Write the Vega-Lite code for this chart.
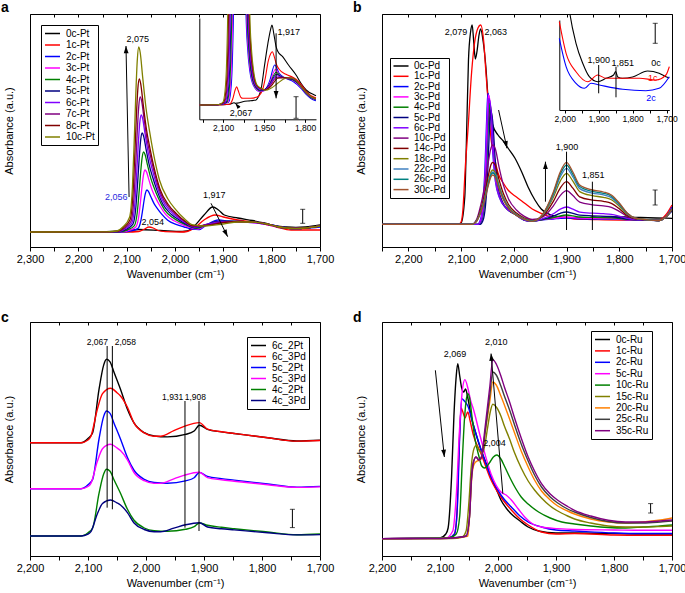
{
"$schema":"https://vega.github.io/schema/vega-lite/v6.json",
"background":"white","padding":0,"autosize":{"type":"pad"},
"config":{"font":"Liberation Sans","view":{"stroke":"black","strokeWidth":1},
"axis":{"grid":false,"domainColor":"black","tickColor":"black","labelColor":"black","titleColor":"black","labelFontSize":11,"titleFontSize":11,"titleFontWeight":"normal","labelFont":"Liberation Sans","titleFont":"Liberation Sans"},
"legend":{"labelColor":"black","labelFont":"Liberation Sans"},
"text":{"font":"Liberation Sans"}},
"datasets":{
"A":[
{"s":"0c-Pt","w":2300,"v":15},{"s":"0c-Pt","w":2150,"v":15.2},{"s":"0c-Pt","w":2100,"v":16.5},{"s":"0c-Pt","w":2075,"v":17.5},{"s":"0c-Pt","w":2030,"v":16.5},{"s":"0c-Pt","w":1985,"v":15.5},{"s":"0c-Pt","w":1975,"v":16},{"s":"0c-Pt","w":1960,"v":21},{"s":"0c-Pt","w":1940,"v":32},{"s":"0c-Pt","w":1922,"v":40},{"s":"0c-Pt","w":1910,"v":37},{"s":"0c-Pt","w":1898,"v":32},{"s":"0c-Pt","w":1870,"v":29},{"s":"0c-Pt","w":1840,"v":26.5},{"s":"0c-Pt","w":1815,"v":24},{"s":"0c-Pt","w":1790,"v":21},{"s":"0c-Pt","w":1770,"v":20},{"s":"0c-Pt","w":1750,"v":19.5},{"s":"0c-Pt","w":1730,"v":20},{"s":"0c-Pt","w":1700,"v":22},
{"s":"1c-Pt","w":2300,"v":15},{"s":"1c-Pt","w":2100,"v":15},{"s":"1c-Pt","w":2075,"v":15.5},{"s":"1c-Pt","w":2065,"v":17.5},{"s":"1c-Pt","w":2054,"v":20},{"s":"1c-Pt","w":2045,"v":19},{"s":"1c-Pt","w":2035,"v":16.5},{"s":"1c-Pt","w":2020,"v":15.3},{"s":"1c-Pt","w":1990,"v":15},{"s":"1c-Pt","w":1975,"v":15.5},{"s":"1c-Pt","w":1960,"v":19},{"s":"1c-Pt","w":1940,"v":27},{"s":"1c-Pt","w":1917,"v":32},{"s":"1c-Pt","w":1900,"v":30},{"s":"1c-Pt","w":1870,"v":27},{"s":"1c-Pt","w":1840,"v":25},{"s":"1c-Pt","w":1815,"v":23},{"s":"1c-Pt","w":1790,"v":20},{"s":"1c-Pt","w":1760,"v":17},{"s":"1c-Pt","w":1730,"v":17},{"s":"1c-Pt","w":1700,"v":17},
{"s":"2c-Pt","w":2300,"v":15},{"s":"2c-Pt","w":2123,"v":15},{"s":"2c-Pt","w":2103,"v":15.2},{"s":"2c-Pt","w":2091,"v":16.1},{"s":"2c-Pt","w":2077,"v":18.4},{"s":"2c-Pt","w":2071,"v":25.5},{"s":"2c-Pt","w":2067,"v":36.8},{"s":"2c-Pt","w":2064,"v":46.5},{"s":"2c-Pt","w":2061,"v":54.1},{"s":"2c-Pt","w":2058,"v":57},{"s":"2c-Pt","w":2055,"v":55.7},{"s":"2c-Pt","w":2050,"v":50.3},{"s":"2c-Pt","w":2043,"v":43.1},{"s":"2c-Pt","w":2036,"v":38.1},{"s":"2c-Pt","w":2028,"v":33.1},{"s":"2c-Pt","w":2015,"v":26.8},{"s":"2c-Pt","w":1998,"v":22.6},{"s":"2c-Pt","w":1981,"v":20},{"s":"2c-Pt","w":1963,"v":17.9},{"s":"2c-Pt","w":1950,"v":17.5},{"s":"2c-Pt","w":1935,"v":22},{"s":"2c-Pt","w":1910,"v":27},{"s":"2c-Pt","w":1890,"v":26},{"s":"2c-Pt","w":1860,"v":25},{"s":"2c-Pt","w":1830,"v":24},{"s":"2c-Pt","w":1800,"v":22},{"s":"2c-Pt","w":1780,"v":20},{"s":"2c-Pt","w":1760,"v":19},{"s":"2c-Pt","w":1730,"v":19},{"s":"2c-Pt","w":1700,"v":20},
{"s":"3c-Pt","w":2300,"v":15},{"s":"3c-Pt","w":2127,"v":15.1},{"s":"3c-Pt","w":2107,"v":15.3},{"s":"3c-Pt","w":2095,"v":16.7},{"s":"3c-Pt","w":2081,"v":20},{"s":"3c-Pt","w":2075,"v":30.5},{"s":"3c-Pt","w":2071,"v":47.2},{"s":"3c-Pt","w":2068,"v":61.5},{"s":"3c-Pt","w":2065,"v":72.7},{"s":"3c-Pt","w":2062,"v":77},{"s":"3c-Pt","w":2059,"v":75.1},{"s":"3c-Pt","w":2054,"v":67.1},{"s":"3c-Pt","w":2047,"v":56.5},{"s":"3c-Pt","w":2040,"v":49.1},{"s":"3c-Pt","w":2032,"v":41.7},{"s":"3c-Pt","w":2019,"v":32.4},{"s":"3c-Pt","w":2002,"v":26.2},{"s":"3c-Pt","w":1985,"v":22.4},{"s":"3c-Pt","w":1967,"v":19.3},{"s":"3c-Pt","w":1952,"v":18},{"s":"3c-Pt","w":1935,"v":22},{"s":"3c-Pt","w":1910,"v":25.5},{"s":"3c-Pt","w":1870,"v":25},{"s":"3c-Pt","w":1840,"v":24.5},{"s":"3c-Pt","w":1810,"v":22.5},{"s":"3c-Pt","w":1790,"v":20},{"s":"3c-Pt","w":1770,"v":19},{"s":"3c-Pt","w":1750,"v":18.5},{"s":"3c-Pt","w":1730,"v":19},{"s":"3c-Pt","w":1700,"v":21},
{"s":"4c-Pt","w":2300,"v":15},{"s":"4c-Pt","w":2130,"v":15.1},{"s":"4c-Pt","w":2110,"v":15.4},{"s":"4c-Pt","w":2098,"v":17.2},{"s":"4c-Pt","w":2084,"v":21.4},{"s":"4c-Pt","w":2078,"v":35},{"s":"4c-Pt","w":2074,"v":56.6},{"s":"4c-Pt","w":2071,"v":75},{"s":"4c-Pt","w":2068,"v":89.4},{"s":"4c-Pt","w":2065,"v":95},{"s":"4c-Pt","w":2062,"v":92.6},{"s":"4c-Pt","w":2057,"v":82.2},{"s":"4c-Pt","w":2050,"v":68.6},{"s":"4c-Pt","w":2043,"v":59},{"s":"4c-Pt","w":2035,"v":49.4},{"s":"4c-Pt","w":2022,"v":37.4},{"s":"4c-Pt","w":2005,"v":29.4},{"s":"4c-Pt","w":1988,"v":24.6},{"s":"4c-Pt","w":1970,"v":20.6},{"s":"4c-Pt","w":1955,"v":18.7},{"s":"4c-Pt","w":1935,"v":22},{"s":"4c-Pt","w":1910,"v":25.5},{"s":"4c-Pt","w":1870,"v":25.5},{"s":"4c-Pt","w":1840,"v":25},{"s":"4c-Pt","w":1810,"v":23},{"s":"4c-Pt","w":1790,"v":20.5},{"s":"4c-Pt","w":1770,"v":19},{"s":"4c-Pt","w":1750,"v":18.5},{"s":"4c-Pt","w":1730,"v":19},{"s":"4c-Pt","w":1700,"v":21},
{"s":"5c-Pt","w":2300,"v":15},{"s":"5c-Pt","w":2133,"v":15.1},{"s":"5c-Pt","w":2113,"v":15.5},{"s":"5c-Pt","w":2101,"v":17.7},{"s":"5c-Pt","w":2087,"v":22.9},{"s":"5c-Pt","w":2081,"v":39.8},{"s":"5c-Pt","w":2077,"v":66.5},{"s":"5c-Pt","w":2074,"v":89.3},{"s":"5c-Pt","w":2071,"v":107.1},{"s":"5c-Pt","w":2068,"v":114},{"s":"5c-Pt","w":2065,"v":111},{"s":"5c-Pt","w":2060,"v":98.2},{"s":"5c-Pt","w":2053,"v":81.3},{"s":"5c-Pt","w":2046,"v":69.5},{"s":"5c-Pt","w":2038,"v":57.6},{"s":"5c-Pt","w":2025,"v":42.7},{"s":"5c-Pt","w":2008,"v":32.8},{"s":"5c-Pt","w":1991,"v":26.9},{"s":"5c-Pt","w":1973,"v":21.9},{"s":"5c-Pt","w":1958,"v":19.3},{"s":"5c-Pt","w":1935,"v":22.5},{"s":"5c-Pt","w":1908,"v":25.5},{"s":"5c-Pt","w":1870,"v":25.5},{"s":"5c-Pt","w":1840,"v":25},{"s":"5c-Pt","w":1810,"v":23},{"s":"5c-Pt","w":1790,"v":20.5},{"s":"5c-Pt","w":1770,"v":19},{"s":"5c-Pt","w":1750,"v":18.5},{"s":"5c-Pt","w":1730,"v":19},{"s":"5c-Pt","w":1700,"v":21},
{"s":"6c-Pt","w":2300,"v":15},{"s":"6c-Pt","w":2135,"v":15.1},{"s":"6c-Pt","w":2115,"v":15.6},{"s":"6c-Pt","w":2103,"v":18.2},{"s":"6c-Pt","w":2089,"v":24.4},{"s":"6c-Pt","w":2083,"v":44.3},{"s":"6c-Pt","w":2079,"v":75.8},{"s":"6c-Pt","w":2076,"v":102.8},{"s":"6c-Pt","w":2073,"v":123.8},{"s":"6c-Pt","w":2070,"v":132},{"s":"6c-Pt","w":2067,"v":128.5},{"s":"6c-Pt","w":2062,"v":113.3},{"s":"6c-Pt","w":2055,"v":93.4},{"s":"6c-Pt","w":2048,"v":79.4},{"s":"6c-Pt","w":2040,"v":65.3},{"s":"6c-Pt","w":2027,"v":47.8},{"s":"6c-Pt","w":2010,"v":36.1},{"s":"6c-Pt","w":1993,"v":29},{"s":"6c-Pt","w":1975,"v":23.2},{"s":"6c-Pt","w":1960,"v":19.9},{"s":"6c-Pt","w":1935,"v":22.5},{"s":"6c-Pt","w":1908,"v":25},{"s":"6c-Pt","w":1870,"v":25.5},{"s":"6c-Pt","w":1840,"v":25},{"s":"6c-Pt","w":1810,"v":23},{"s":"6c-Pt","w":1790,"v":20.5},{"s":"6c-Pt","w":1770,"v":19},{"s":"6c-Pt","w":1750,"v":18.5},{"s":"6c-Pt","w":1730,"v":19},{"s":"6c-Pt","w":1700,"v":21},
{"s":"7c-Pt","w":2300,"v":15},{"s":"7c-Pt","w":2137,"v":15.2},{"s":"7c-Pt","w":2117,"v":15.7},{"s":"7c-Pt","w":2105,"v":18.6},{"s":"7c-Pt","w":2091,"v":25.8},{"s":"7c-Pt","w":2085,"v":48.8},{"s":"7c-Pt","w":2081,"v":85.2},{"s":"7c-Pt","w":2078,"v":116.3},{"s":"7c-Pt","w":2075,"v":140.6},{"s":"7c-Pt","w":2072,"v":150},{"s":"7c-Pt","w":2069,"v":146},{"s":"7c-Pt","w":2064,"v":128.4},{"s":"7c-Pt","w":2057,"v":105.5},{"s":"7c-Pt","w":2050,"v":89.3},{"s":"7c-Pt","w":2042,"v":73.1},{"s":"7c-Pt","w":2029,"v":52.8},{"s":"7c-Pt","w":2012,"v":39.3},{"s":"7c-Pt","w":1995,"v":31.2},{"s":"7c-Pt","w":1977,"v":24.5},{"s":"7c-Pt","w":1962,"v":20.6},{"s":"7c-Pt","w":1935,"v":22},{"s":"7c-Pt","w":1905,"v":24.5},{"s":"7c-Pt","w":1870,"v":25.5},{"s":"7c-Pt","w":1840,"v":25},{"s":"7c-Pt","w":1810,"v":23},{"s":"7c-Pt","w":1790,"v":20.5},{"s":"7c-Pt","w":1770,"v":19},{"s":"7c-Pt","w":1750,"v":18.5},{"s":"7c-Pt","w":1730,"v":19},{"s":"7c-Pt","w":1700,"v":21},
{"s":"8c-Pt","w":2300,"v":15},{"s":"8c-Pt","w":2139,"v":15.2},{"s":"8c-Pt","w":2119,"v":15.8},{"s":"8c-Pt","w":2107,"v":19.1},{"s":"8c-Pt","w":2093,"v":27.2},{"s":"8c-Pt","w":2087,"v":53.3},{"s":"8c-Pt","w":2083,"v":94.6},{"s":"8c-Pt","w":2080,"v":129.8},{"s":"8c-Pt","w":2077,"v":157.3},{"s":"8c-Pt","w":2074,"v":168},{"s":"8c-Pt","w":2071,"v":163.4},{"s":"8c-Pt","w":2066,"v":143.5},{"s":"8c-Pt","w":2059,"v":117.5},{"s":"8c-Pt","w":2052,"v":99.2},{"s":"8c-Pt","w":2044,"v":80.8},{"s":"8c-Pt","w":2031,"v":57.8},{"s":"8c-Pt","w":2014,"v":42.5},{"s":"8c-Pt","w":1997,"v":33.4},{"s":"8c-Pt","w":1979,"v":25.7},{"s":"8c-Pt","w":1964,"v":21.3},{"s":"8c-Pt","w":1935,"v":21.5},{"s":"8c-Pt","w":1905,"v":24},{"s":"8c-Pt","w":1870,"v":25.5},{"s":"8c-Pt","w":1840,"v":25},{"s":"8c-Pt","w":1810,"v":23},{"s":"8c-Pt","w":1790,"v":20.5},{"s":"8c-Pt","w":1770,"v":19},{"s":"8c-Pt","w":1750,"v":18.5},{"s":"8c-Pt","w":1730,"v":19},{"s":"8c-Pt","w":1700,"v":21},
{"s":"10c-Pt","w":2300,"v":15},{"s":"10c-Pt","w":2140,"v":15.2},{"s":"10c-Pt","w":2120,"v":16},{"s":"10c-Pt","w":2108,"v":20},{"s":"10c-Pt","w":2094,"v":29.8},{"s":"10c-Pt","w":2088,"v":61},{"s":"10c-Pt","w":2084,"v":111},{"s":"10c-Pt","w":2081,"v":154},{"s":"10c-Pt","w":2078,"v":187},{"s":"10c-Pt","w":2075,"v":200},{"s":"10c-Pt","w":2072,"v":194.5},{"s":"10c-Pt","w":2067,"v":170.4},{"s":"10c-Pt","w":2060,"v":139},{"s":"10c-Pt","w":2053,"v":116.8},{"s":"10c-Pt","w":2045,"v":94.6},{"s":"10c-Pt","w":2032,"v":66.8},{"s":"10c-Pt","w":2015,"v":48.3},{"s":"10c-Pt","w":1998,"v":37.2},{"s":"10c-Pt","w":1980,"v":28},{"s":"10c-Pt","w":1965,"v":22.4},{"s":"10c-Pt","w":1940,"v":21},{"s":"10c-Pt","w":1900,"v":23},{"s":"10c-Pt","w":1870,"v":25},{"s":"10c-Pt","w":1840,"v":25},{"s":"10c-Pt","w":1810,"v":23},{"s":"10c-Pt","w":1790,"v":20.5},{"s":"10c-Pt","w":1770,"v":19},{"s":"10c-Pt","w":1750,"v":18.5},{"s":"10c-Pt","w":1730,"v":19},{"s":"10c-Pt","w":1700,"v":21}
],
"AI":[
{"s":"0c-Pt","w":2187,"v":14.3},{"s":"0c-Pt","w":2100,"v":14.5},{"s":"0c-Pt","w":2075,"v":15},{"s":"0c-Pt","w":2060,"v":16.5},{"s":"0c-Pt","w":2055,"v":16},{"s":"0c-Pt","w":2040,"v":16.5},{"s":"0c-Pt","w":2028,"v":17.6},{"s":"0c-Pt","w":2000,"v":18.5},{"s":"0c-Pt","w":1979,"v":19.3},{"s":"0c-Pt","w":1970,"v":23},{"s":"0c-Pt","w":1961,"v":30},{"s":"0c-Pt","w":1949,"v":52.6},{"s":"0c-Pt","w":1936,"v":76},{"s":"0c-Pt","w":1926,"v":90},{"s":"0c-Pt","w":1921,"v":94.3},{"s":"0c-Pt","w":1914,"v":85},{"s":"0c-Pt","w":1906,"v":72.6},{"s":"0c-Pt","w":1900,"v":68},{"s":"0c-Pt","w":1882,"v":62.6},{"s":"0c-Pt","w":1860,"v":54},{"s":"0c-Pt","w":1833,"v":44.3},{"s":"0c-Pt","w":1815,"v":36},{"s":"0c-Pt","w":1796,"v":29.3},{"s":"0c-Pt","w":1766,"v":24.3},{"s":"0c-Pt","w":1760,"v":23.5},
{"s":"1c-Pt","w":2187,"v":14.3},{"s":"1c-Pt","w":2100,"v":14.5},{"s":"1c-Pt","w":2077,"v":15},{"s":"1c-Pt","w":2065,"v":20},{"s":"1c-Pt","w":2055,"v":30},{"s":"1c-Pt","w":2050,"v":32.6},{"s":"1c-Pt","w":2045,"v":29},{"s":"1c-Pt","w":2035,"v":22},{"s":"1c-Pt","w":2028,"v":21},{"s":"1c-Pt","w":2000,"v":21},{"s":"1c-Pt","w":1979,"v":22},{"s":"1c-Pt","w":1967,"v":24},{"s":"1c-Pt","w":1955,"v":30},{"s":"1c-Pt","w":1945,"v":42},{"s":"1c-Pt","w":1935,"v":58},{"s":"1c-Pt","w":1925,"v":66},{"s":"1c-Pt","w":1920,"v":67.6},{"s":"1c-Pt","w":1912,"v":62},{"s":"1c-Pt","w":1905,"v":55},{"s":"1c-Pt","w":1895,"v":50},{"s":"1c-Pt","w":1870,"v":45},{"s":"1c-Pt","w":1845,"v":42},{"s":"1c-Pt","w":1833,"v":40},{"s":"1c-Pt","w":1815,"v":35},{"s":"1c-Pt","w":1796,"v":28},{"s":"1c-Pt","w":1766,"v":22},{"s":"1c-Pt","w":1760,"v":21.5},
{"s":"2c-Pt","w":2187,"v":14.3},{"s":"2c-Pt","w":2120,"v":14.5},{"s":"2c-Pt","w":2080,"v":17},{"s":"2c-Pt","w":2072,"v":28},{"s":"2c-Pt","w":2067,"v":50},{"s":"2c-Pt","w":2062,"v":105},{"s":"2c-Pt","w":2058,"v":180},{"s":"2c-Pt","w":2020,"v":180},{"s":"2c-Pt","w":2016,"v":105},{"s":"2c-Pt","w":2010,"v":70},{"s":"2c-Pt","w":2002,"v":48},{"s":"2c-Pt","w":1989,"v":34},{"s":"2c-Pt","w":1968,"v":28},{"s":"2c-Pt","w":1950,"v":28.5},{"s":"2c-Pt","w":1930,"v":38},{"s":"2c-Pt","w":1911,"v":54.3},{"s":"2c-Pt","w":1895,"v":46},{"s":"2c-Pt","w":1870,"v":41},{"s":"2c-Pt","w":1845,"v":38},{"s":"2c-Pt","w":1815,"v":31},{"s":"2c-Pt","w":1796,"v":25},{"s":"2c-Pt","w":1766,"v":19},{"s":"2c-Pt","w":1760,"v":18.5},
{"s":"3c-Pt","w":2187,"v":14.3},{"s":"3c-Pt","w":2120,"v":14.5},{"s":"3c-Pt","w":2083,"v":17},{"s":"3c-Pt","w":2075,"v":28},{"s":"3c-Pt","w":2070,"v":50},{"s":"3c-Pt","w":2065,"v":105},{"s":"3c-Pt","w":2061,"v":180},{"s":"3c-Pt","w":2018,"v":180},{"s":"3c-Pt","w":2014,"v":105},{"s":"3c-Pt","w":2008,"v":70},{"s":"3c-Pt","w":2000,"v":48},{"s":"3c-Pt","w":1987,"v":34},{"s":"3c-Pt","w":1966,"v":28},{"s":"3c-Pt","w":1950,"v":28.5},{"s":"3c-Pt","w":1930,"v":36},{"s":"3c-Pt","w":1908,"v":50},{"s":"3c-Pt","w":1893,"v":44},{"s":"3c-Pt","w":1870,"v":41},{"s":"3c-Pt","w":1845,"v":39},{"s":"3c-Pt","w":1815,"v":32},{"s":"3c-Pt","w":1796,"v":26},{"s":"3c-Pt","w":1766,"v":20},{"s":"3c-Pt","w":1760,"v":19.5},
{"s":"4c-Pt","w":2187,"v":14.3},{"s":"4c-Pt","w":2120,"v":14.5},{"s":"4c-Pt","w":2086,"v":17},{"s":"4c-Pt","w":2078,"v":28},{"s":"4c-Pt","w":2073,"v":50},{"s":"4c-Pt","w":2068,"v":105},{"s":"4c-Pt","w":2064,"v":180},{"s":"4c-Pt","w":2016,"v":180},{"s":"4c-Pt","w":2012,"v":105},{"s":"4c-Pt","w":2006,"v":70},{"s":"4c-Pt","w":1998,"v":48},{"s":"4c-Pt","w":1985,"v":34},{"s":"4c-Pt","w":1964,"v":28.5},{"s":"4c-Pt","w":1950,"v":29},{"s":"4c-Pt","w":1930,"v":35},{"s":"4c-Pt","w":1906,"v":47},{"s":"4c-Pt","w":1890,"v":43},{"s":"4c-Pt","w":1870,"v":41},{"s":"4c-Pt","w":1845,"v":39.5},{"s":"4c-Pt","w":1815,"v":32.5},{"s":"4c-Pt","w":1796,"v":26},{"s":"4c-Pt","w":1766,"v":20},{"s":"4c-Pt","w":1760,"v":19.5},
{"s":"5c-Pt","w":2187,"v":14.3},{"s":"5c-Pt","w":2120,"v":14.5},{"s":"5c-Pt","w":2089,"v":17},{"s":"5c-Pt","w":2081,"v":28},{"s":"5c-Pt","w":2076,"v":50},{"s":"5c-Pt","w":2071,"v":105},{"s":"5c-Pt","w":2067,"v":180},{"s":"5c-Pt","w":2014,"v":180},{"s":"5c-Pt","w":2010,"v":105},{"s":"5c-Pt","w":2004,"v":70},{"s":"5c-Pt","w":1996,"v":48},{"s":"5c-Pt","w":1983,"v":34},{"s":"5c-Pt","w":1962,"v":29},{"s":"5c-Pt","w":1950,"v":29.5},{"s":"5c-Pt","w":1930,"v":34.5},{"s":"5c-Pt","w":1905,"v":45},{"s":"5c-Pt","w":1888,"v":42.5},{"s":"5c-Pt","w":1870,"v":41},{"s":"5c-Pt","w":1845,"v":40},{"s":"5c-Pt","w":1815,"v":33},{"s":"5c-Pt","w":1796,"v":26.5},{"s":"5c-Pt","w":1766,"v":20.5},{"s":"5c-Pt","w":1760,"v":20},
{"s":"6c-Pt","w":2187,"v":14.3},{"s":"6c-Pt","w":2120,"v":14.5},{"s":"6c-Pt","w":2092,"v":17},{"s":"6c-Pt","w":2084,"v":28},{"s":"6c-Pt","w":2079,"v":50},{"s":"6c-Pt","w":2074,"v":105},{"s":"6c-Pt","w":2070,"v":180},{"s":"6c-Pt","w":2012,"v":180},{"s":"6c-Pt","w":2008,"v":105},{"s":"6c-Pt","w":2002,"v":70},{"s":"6c-Pt","w":1994,"v":48},{"s":"6c-Pt","w":1981,"v":34},{"s":"6c-Pt","w":1960,"v":29.5},{"s":"6c-Pt","w":1948,"v":29.5},{"s":"6c-Pt","w":1930,"v":34},{"s":"6c-Pt","w":1904,"v":43.5},{"s":"6c-Pt","w":1885,"v":42},{"s":"6c-Pt","w":1868,"v":41},{"s":"6c-Pt","w":1845,"v":40.5},{"s":"6c-Pt","w":1815,"v":33},{"s":"6c-Pt","w":1796,"v":26.5},{"s":"6c-Pt","w":1766,"v":20.5},{"s":"6c-Pt","w":1760,"v":20},
{"s":"7c-Pt","w":2187,"v":14.3},{"s":"7c-Pt","w":2120,"v":14.5},{"s":"7c-Pt","w":2095,"v":17},{"s":"7c-Pt","w":2087,"v":28},{"s":"7c-Pt","w":2082,"v":50},{"s":"7c-Pt","w":2077,"v":105},{"s":"7c-Pt","w":2073,"v":180},{"s":"7c-Pt","w":2010,"v":180},{"s":"7c-Pt","w":2006,"v":105},{"s":"7c-Pt","w":2000,"v":70},{"s":"7c-Pt","w":1992,"v":48},{"s":"7c-Pt","w":1979,"v":34},{"s":"7c-Pt","w":1960,"v":30},{"s":"7c-Pt","w":1946,"v":29.5},{"s":"7c-Pt","w":1930,"v":33},{"s":"7c-Pt","w":1903,"v":42},{"s":"7c-Pt","w":1882,"v":41.5},{"s":"7c-Pt","w":1865,"v":41.5},{"s":"7c-Pt","w":1845,"v":41},{"s":"7c-Pt","w":1815,"v":33.5},{"s":"7c-Pt","w":1796,"v":27},{"s":"7c-Pt","w":1766,"v":21},{"s":"7c-Pt","w":1760,"v":20.5},
{"s":"8c-Pt","w":2187,"v":14.3},{"s":"8c-Pt","w":2120,"v":14.5},{"s":"8c-Pt","w":2098,"v":17},{"s":"8c-Pt","w":2090,"v":28},{"s":"8c-Pt","w":2085,"v":50},{"s":"8c-Pt","w":2080,"v":105},{"s":"8c-Pt","w":2076,"v":180},{"s":"8c-Pt","w":2008,"v":180},{"s":"8c-Pt","w":2004,"v":105},{"s":"8c-Pt","w":1998,"v":70},{"s":"8c-Pt","w":1990,"v":48},{"s":"8c-Pt","w":1977,"v":34},{"s":"8c-Pt","w":1960,"v":30.5},{"s":"8c-Pt","w":1945,"v":29.5},{"s":"8c-Pt","w":1925,"v":33},{"s":"8c-Pt","w":1900,"v":41},{"s":"8c-Pt","w":1880,"v":41.5},{"s":"8c-Pt","w":1862,"v":41.5},{"s":"8c-Pt","w":1845,"v":41},{"s":"8c-Pt","w":1815,"v":33.5},{"s":"8c-Pt","w":1796,"v":27},{"s":"8c-Pt","w":1766,"v":21},{"s":"8c-Pt","w":1760,"v":20.5},
{"s":"10c-Pt","w":2187,"v":14.3},{"s":"10c-Pt","w":2120,"v":14.5},{"s":"10c-Pt","w":2101,"v":17},{"s":"10c-Pt","w":2093,"v":28},{"s":"10c-Pt","w":2088,"v":50},{"s":"10c-Pt","w":2083,"v":105},{"s":"10c-Pt","w":2079,"v":180},{"s":"10c-Pt","w":2006,"v":180},{"s":"10c-Pt","w":2002,"v":105},{"s":"10c-Pt","w":1996,"v":70},{"s":"10c-Pt","w":1988,"v":48},{"s":"10c-Pt","w":1975,"v":34},{"s":"10c-Pt","w":1960,"v":31},{"s":"10c-Pt","w":1945,"v":29},{"s":"10c-Pt","w":1925,"v":31},{"s":"10c-Pt","w":1900,"v":36},{"s":"10c-Pt","w":1880,"v":40},{"s":"10c-Pt","w":1860,"v":41.5},{"s":"10c-Pt","w":1845,"v":41},{"s":"10c-Pt","w":1833,"v":39},{"s":"10c-Pt","w":1815,"v":33},{"s":"10c-Pt","w":1796,"v":27},{"s":"10c-Pt","w":1766,"v":21},{"s":"10c-Pt","w":1760,"v":20.5}
],
"B":[
{"s":"0c-Pd","w":2250,"v":22.7},{"s":"0c-Pd","w":2105,"v":22.7},{"s":"0c-Pd","w":2100,"v":24},{"s":"0c-Pd","w":2093,"v":50},{"s":"0c-Pd","w":2090,"v":104},{"s":"0c-Pd","w":2086,"v":187},{"s":"0c-Pd","w":2082,"v":215},{"s":"0c-Pd","w":2079,"v":222},{"s":"0c-Pd","w":2076,"v":205},{"s":"0c-Pd","w":2073,"v":188},{"s":"0c-Pd","w":2070,"v":195},{"s":"0c-Pd","w":2066,"v":212},{"s":"0c-Pd","w":2063,"v":218},{"s":"0c-Pd","w":2058,"v":205},{"s":"0c-Pd","w":2053,"v":180},{"s":"0c-Pd","w":2049,"v":150},{"s":"0c-Pd","w":2040,"v":122},{"s":"0c-Pd","w":2030,"v":112},{"s":"0c-Pd","w":2020,"v":106},{"s":"0c-Pd","w":2011,"v":99},{"s":"0c-Pd","w":1998,"v":89},{"s":"0c-Pd","w":1985,"v":75},{"s":"0c-Pd","w":1973,"v":60},{"s":"0c-Pd","w":1960,"v":47},{"s":"0c-Pd","w":1948,"v":38},{"s":"0c-Pd","w":1929,"v":32},{"s":"0c-Pd","w":1897,"v":29.5},{"s":"0c-Pd","w":1860,"v":29},{"s":"0c-Pd","w":1851,"v":30},{"s":"0c-Pd","w":1840,"v":29.5},{"s":"0c-Pd","w":1820,"v":30},{"s":"0c-Pd","w":1790,"v":30},{"s":"0c-Pd","w":1760,"v":29.5},{"s":"0c-Pd","w":1730,"v":29},{"s":"0c-Pd","w":1700,"v":28.7},
{"s":"1c-Pd","w":2250,"v":22.7},{"s":"1c-Pd","w":2105,"v":22.7},{"s":"1c-Pd","w":2100,"v":25},{"s":"1c-Pd","w":2096.6,"v":37},{"s":"1c-Pd","w":2092,"v":80},{"s":"1c-Pd","w":2087,"v":117},{"s":"1c-Pd","w":2080,"v":175},{"s":"1c-Pd","w":2074.5,"v":204},{"s":"1c-Pd","w":2068,"v":219},{"s":"1c-Pd","w":2063,"v":222},{"s":"1c-Pd","w":2057,"v":205},{"s":"1c-Pd","w":2053,"v":175},{"s":"1c-Pd","w":2049,"v":147},{"s":"1c-Pd","w":2043,"v":107},{"s":"1c-Pd","w":2035,"v":85},{"s":"1c-Pd","w":2030,"v":74},{"s":"1c-Pd","w":2020,"v":64},{"s":"1c-Pd","w":2011,"v":57},{"s":"1c-Pd","w":1995,"v":50},{"s":"1c-Pd","w":1980,"v":44},{"s":"1c-Pd","w":1965,"v":38},{"s":"1c-Pd","w":1948,"v":33.7},{"s":"1c-Pd","w":1930,"v":30},{"s":"1c-Pd","w":1912,"v":28.7},{"s":"1c-Pd","w":1900,"v":29.5},{"s":"1c-Pd","w":1885,"v":28},{"s":"1c-Pd","w":1851,"v":27.5},{"s":"1c-Pd","w":1800,"v":27},{"s":"1c-Pd","w":1750,"v":27},{"s":"1c-Pd","w":1725,"v":27},{"s":"1c-Pd","w":1712,"v":32},{"s":"1c-Pd","w":1700,"v":42},
{"s":"2c-Pd","w":2250,"v":22.7},{"s":"2c-Pd","w":2069,"v":22.7},{"s":"2c-Pd","w":2063,"v":27.9},{"s":"2c-Pd","w":2059,"v":42.4},{"s":"2c-Pd","w":2055,"v":75.1},{"s":"2c-Pd","w":2052,"v":121},{"s":"2c-Pd","w":2050,"v":147.2},{"s":"2c-Pd","w":2049,"v":153.7},{"s":"2c-Pd","w":2045,"v":140.6},{"s":"2c-Pd","w":2040,"v":94.8},{"s":"2c-Pd","w":2035,"v":65.9},{"s":"2c-Pd","w":2027,"v":48.9},{"s":"2c-Pd","w":2014,"v":38.4},{"s":"2c-Pd","w":1999,"v":33.2},{"s":"2c-Pd","w":1979,"v":26.6},{"s":"2c-Pd","w":1964,"v":26},{"s":"2c-Pd","w":1945,"v":27.2},{"s":"2c-Pd","w":1925,"v":28},{"s":"2c-Pd","w":1912,"v":28.7},{"s":"2c-Pd","w":1900,"v":29},{"s":"2c-Pd","w":1888,"v":28.7},{"s":"2c-Pd","w":1875,"v":28.2},{"s":"2c-Pd","w":1851,"v":28},{"s":"2c-Pd","w":1815,"v":27.9},{"s":"2c-Pd","w":1785,"v":27.2},{"s":"2c-Pd","w":1750,"v":27},{"s":"2c-Pd","w":1725,"v":26.5},{"s":"2c-Pd","w":1712,"v":30},{"s":"2c-Pd","w":1700,"v":40},
{"s":"3c-Pd","w":2250,"v":22.7},{"s":"3c-Pd","w":2068,"v":22.7},{"s":"3c-Pd","w":2062,"v":27.9},{"s":"3c-Pd","w":2058,"v":42.1},{"s":"3c-Pd","w":2054,"v":74.4},{"s":"3c-Pd","w":2051,"v":119.7},{"s":"3c-Pd","w":2049,"v":145.5},{"s":"3c-Pd","w":2048,"v":152},{"s":"3c-Pd","w":2044,"v":139.1},{"s":"3c-Pd","w":2039,"v":93.8},{"s":"3c-Pd","w":2034,"v":65.4},{"s":"3c-Pd","w":2026,"v":48.6},{"s":"3c-Pd","w":2013,"v":38.2},{"s":"3c-Pd","w":1998,"v":33},{"s":"3c-Pd","w":1978,"v":26.6},{"s":"3c-Pd","w":1964,"v":26},{"s":"3c-Pd","w":1945,"v":27.3},{"s":"3c-Pd","w":1925,"v":28.5},{"s":"3c-Pd","w":1912,"v":29.5},{"s":"3c-Pd","w":1900,"v":30},{"s":"3c-Pd","w":1888,"v":29.5},{"s":"3c-Pd","w":1875,"v":28.8},{"s":"3c-Pd","w":1851,"v":28.6},{"s":"3c-Pd","w":1815,"v":28.3},{"s":"3c-Pd","w":1785,"v":27.4},{"s":"3c-Pd","w":1750,"v":27},{"s":"3c-Pd","w":1725,"v":26.5},{"s":"3c-Pd","w":1712,"v":30},{"s":"3c-Pd","w":1700,"v":38},
{"s":"4c-Pd","w":2250,"v":22.7},{"s":"4c-Pd","w":2066,"v":22.7},{"s":"4c-Pd","w":2060,"v":27.5},{"s":"4c-Pd","w":2056,"v":40.9},{"s":"4c-Pd","w":2052,"v":71.1},{"s":"4c-Pd","w":2049,"v":113.5},{"s":"4c-Pd","w":2047,"v":137.7},{"s":"4c-Pd","w":2046,"v":143.7},{"s":"4c-Pd","w":2042,"v":131.6},{"s":"4c-Pd","w":2037,"v":89.3},{"s":"4c-Pd","w":2032,"v":62.6},{"s":"4c-Pd","w":2024,"v":46.9},{"s":"4c-Pd","w":2011,"v":37.2},{"s":"4c-Pd","w":1996,"v":32.4},{"s":"4c-Pd","w":1976,"v":26.3},{"s":"4c-Pd","w":1964,"v":26},{"s":"4c-Pd","w":1945,"v":27.5},{"s":"4c-Pd","w":1925,"v":29.4},{"s":"4c-Pd","w":1912,"v":31.2},{"s":"4c-Pd","w":1900,"v":32},{"s":"4c-Pd","w":1888,"v":31.2},{"s":"4c-Pd","w":1875,"v":30},{"s":"4c-Pd","w":1851,"v":29.6},{"s":"4c-Pd","w":1815,"v":29.2},{"s":"4c-Pd","w":1785,"v":27.6},{"s":"4c-Pd","w":1750,"v":27},{"s":"4c-Pd","w":1725,"v":26.5},{"s":"4c-Pd","w":1712,"v":30},{"s":"4c-Pd","w":1700,"v":38},
{"s":"5c-Pd","w":2250,"v":22.7},{"s":"5c-Pd","w":2064,"v":22.7},{"s":"5c-Pd","w":2058,"v":27.3},{"s":"5c-Pd","w":2054,"v":39.8},{"s":"5c-Pd","w":2050,"v":68.4},{"s":"5c-Pd","w":2047,"v":108.4},{"s":"5c-Pd","w":2045,"v":131.3},{"s":"5c-Pd","w":2044,"v":137},{"s":"5c-Pd","w":2040,"v":125.6},{"s":"5c-Pd","w":2035,"v":85.6},{"s":"5c-Pd","w":2030,"v":60.4},{"s":"5c-Pd","w":2022,"v":45.6},{"s":"5c-Pd","w":2009,"v":36.4},{"s":"5c-Pd","w":1994,"v":31.8},{"s":"5c-Pd","w":1974,"v":26.1},{"s":"5c-Pd","w":1964,"v":26},{"s":"5c-Pd","w":1945,"v":27.8},{"s":"5c-Pd","w":1925,"v":30.9},{"s":"5c-Pd","w":1912,"v":33.7},{"s":"5c-Pd","w":1900,"v":35},{"s":"5c-Pd","w":1888,"v":33.7},{"s":"5c-Pd","w":1875,"v":31.9},{"s":"5c-Pd","w":1851,"v":31.2},{"s":"5c-Pd","w":1815,"v":30.5},{"s":"5c-Pd","w":1785,"v":28},{"s":"5c-Pd","w":1750,"v":27},{"s":"5c-Pd","w":1725,"v":26.5},{"s":"5c-Pd","w":1712,"v":30},{"s":"5c-Pd","w":1700,"v":36},
{"s":"6c-Pd","w":2250,"v":22.7},{"s":"6c-Pd","w":2067,"v":22.7},{"s":"6c-Pd","w":2061,"v":27.7},{"s":"6c-Pd","w":2057,"v":41.6},{"s":"6c-Pd","w":2053,"v":73.1},{"s":"6c-Pd","w":2050,"v":117.2},{"s":"6c-Pd","w":2048,"v":142.4},{"s":"6c-Pd","w":2047,"v":148.7},{"s":"6c-Pd","w":2043,"v":136.1},{"s":"6c-Pd","w":2038,"v":92},{"s":"6c-Pd","w":2033,"v":64.3},{"s":"6c-Pd","w":2025,"v":47.9},{"s":"6c-Pd","w":2012,"v":37.8},{"s":"6c-Pd","w":1997,"v":32.8},{"s":"6c-Pd","w":1977,"v":26.5},{"s":"6c-Pd","w":1964,"v":26},{"s":"6c-Pd","w":1945,"v":28.4},{"s":"6c-Pd","w":1925,"v":33.3},{"s":"6c-Pd","w":1912,"v":37.8},{"s":"6c-Pd","w":1900,"v":40},{"s":"6c-Pd","w":1888,"v":37.8},{"s":"6c-Pd","w":1875,"v":34.9},{"s":"6c-Pd","w":1851,"v":33.8},{"s":"6c-Pd","w":1830,"v":33.3},{"s":"6c-Pd","w":1815,"v":32.6},{"s":"6c-Pd","w":1800,"v":30.8},{"s":"6c-Pd","w":1785,"v":28.6},{"s":"6c-Pd","w":1770,"v":27.5},{"s":"6c-Pd","w":1750,"v":27.1},{"s":"6c-Pd","w":1725,"v":26.5},{"s":"6c-Pd","w":1712,"v":30},{"s":"6c-Pd","w":1700,"v":38},
{"s":"10c-Pd","w":2250,"v":22.7},{"s":"10c-Pd","w":2080,"v":22.7},{"s":"10c-Pd","w":2070,"v":28.3},{"s":"10c-Pd","w":2065,"v":37},{"s":"10c-Pd","w":2060,"v":48.1},{"s":"10c-Pd","w":2055,"v":62.4},{"s":"10c-Pd","w":2048,"v":86.1},{"s":"10c-Pd","w":2043,"v":99.6},{"s":"10c-Pd","w":2040,"v":102},{"s":"10c-Pd","w":2035,"v":98},{"s":"10c-Pd","w":2028,"v":79.8},{"s":"10c-Pd","w":2020,"v":62.4},{"s":"10c-Pd","w":2010,"v":48.1},{"s":"10c-Pd","w":1995,"v":37},{"s":"10c-Pd","w":1980,"v":30.6},{"s":"10c-Pd","w":1965,"v":27.5},{"s":"10c-Pd","w":1945,"v":30},{"s":"10c-Pd","w":1925,"v":41.2},{"s":"10c-Pd","w":1912,"v":51.4},{"s":"10c-Pd","w":1900,"v":56.3},{"s":"10c-Pd","w":1888,"v":51.4},{"s":"10c-Pd","w":1875,"v":44.8},{"s":"10c-Pd","w":1851,"v":42.2},{"s":"10c-Pd","w":1830,"v":41.2},{"s":"10c-Pd","w":1815,"v":39.7},{"s":"10c-Pd","w":1800,"v":35.6},{"s":"10c-Pd","w":1785,"v":30.6},{"s":"10c-Pd","w":1770,"v":28},{"s":"10c-Pd","w":1750,"v":27.3},{"s":"10c-Pd","w":1725,"v":26.5},{"s":"10c-Pd","w":1712,"v":30},{"s":"10c-Pd","w":1700,"v":38},
{"s":"14c-Pd","w":2250,"v":22.7},{"s":"14c-Pd","w":2080,"v":22.7},{"s":"14c-Pd","w":2070,"v":27},{"s":"14c-Pd","w":2065,"v":33.9},{"s":"14c-Pd","w":2060,"v":42.5},{"s":"14c-Pd","w":2055,"v":53.7},{"s":"14c-Pd","w":2048,"v":72.3},{"s":"14c-Pd","w":2043,"v":82.8},{"s":"14c-Pd","w":2040,"v":84.7},{"s":"14c-Pd","w":2035,"v":81.6},{"s":"14c-Pd","w":2028,"v":67.3},{"s":"14c-Pd","w":2020,"v":53.7},{"s":"14c-Pd","w":2010,"v":42.5},{"s":"14c-Pd","w":1995,"v":33.9},{"s":"14c-Pd","w":1980,"v":28.9},{"s":"14c-Pd","w":1965,"v":26.4},{"s":"14c-Pd","w":1945,"v":31},{"s":"14c-Pd","w":1925,"v":45.6},{"s":"14c-Pd","w":1912,"v":58.9},{"s":"14c-Pd","w":1900,"v":65.3},{"s":"14c-Pd","w":1888,"v":58.9},{"s":"14c-Pd","w":1875,"v":50.2},{"s":"14c-Pd","w":1851,"v":46.9},{"s":"14c-Pd","w":1830,"v":45.6},{"s":"14c-Pd","w":1815,"v":43.6},{"s":"14c-Pd","w":1800,"v":38.3},{"s":"14c-Pd","w":1785,"v":31.6},{"s":"14c-Pd","w":1770,"v":28.3},{"s":"14c-Pd","w":1750,"v":27.3},{"s":"14c-Pd","w":1725,"v":26.5},{"s":"14c-Pd","w":1712,"v":30},{"s":"14c-Pd","w":1700,"v":38},
{"s":"18c-Pd","w":2250,"v":22.7},{"s":"18c-Pd","w":2080,"v":22.7},{"s":"18c-Pd","w":2070,"v":26.5},{"s":"18c-Pd","w":2065,"v":32.5},{"s":"18c-Pd","w":2060,"v":40.1},{"s":"18c-Pd","w":2055,"v":49.9},{"s":"18c-Pd","w":2048,"v":66.1},{"s":"18c-Pd","w":2043,"v":75.4},{"s":"18c-Pd","w":2040,"v":77},{"s":"18c-Pd","w":2035,"v":74.3},{"s":"18c-Pd","w":2028,"v":61.8},{"s":"18c-Pd","w":2020,"v":49.9},{"s":"18c-Pd","w":2010,"v":40.1},{"s":"18c-Pd","w":1995,"v":32.5},{"s":"18c-Pd","w":1980,"v":28.1},{"s":"18c-Pd","w":1965,"v":26},{"s":"18c-Pd","w":1945,"v":31.9},{"s":"18c-Pd","w":1925,"v":49.7},{"s":"18c-Pd","w":1912,"v":65.9},{"s":"18c-Pd","w":1900,"v":73.7},{"s":"18c-Pd","w":1888,"v":65.9},{"s":"18c-Pd","w":1875,"v":55.4},{"s":"18c-Pd","w":1851,"v":51.3},{"s":"18c-Pd","w":1830,"v":49.7},{"s":"18c-Pd","w":1815,"v":47.3},{"s":"18c-Pd","w":1800,"v":40.8},{"s":"18c-Pd","w":1785,"v":32.7},{"s":"18c-Pd","w":1770,"v":28.6},{"s":"18c-Pd","w":1750,"v":27.4},{"s":"18c-Pd","w":1725,"v":26.5},{"s":"18c-Pd","w":1712,"v":30},{"s":"18c-Pd","w":1700,"v":38},
{"s":"22c-Pd","w":2250,"v":22.7},{"s":"22c-Pd","w":2080,"v":22.7},{"s":"22c-Pd","w":2070,"v":26.4},{"s":"22c-Pd","w":2065,"v":32.1},{"s":"22c-Pd","w":2060,"v":39.4},{"s":"22c-Pd","w":2055,"v":48.9},{"s":"22c-Pd","w":2048,"v":64.5},{"s":"22c-Pd","w":2043,"v":73.4},{"s":"22c-Pd","w":2040,"v":75},{"s":"22c-Pd","w":2035,"v":72.4},{"s":"22c-Pd","w":2028,"v":60.4},{"s":"22c-Pd","w":2020,"v":48.9},{"s":"22c-Pd","w":2010,"v":39.4},{"s":"22c-Pd","w":1995,"v":32.1},{"s":"22c-Pd","w":1980,"v":27.9},{"s":"22c-Pd","w":1965,"v":25.8},{"s":"22c-Pd","w":1945,"v":32.4},{"s":"22c-Pd","w":1925,"v":52.1},{"s":"22c-Pd","w":1912,"v":70},{"s":"22c-Pd","w":1900,"v":78.7},{"s":"22c-Pd","w":1888,"v":70},{"s":"22c-Pd","w":1875,"v":58.4},{"s":"22c-Pd","w":1851,"v":53.9},{"s":"22c-Pd","w":1830,"v":52.1},{"s":"22c-Pd","w":1815,"v":49.4},{"s":"22c-Pd","w":1800,"v":42.2},{"s":"22c-Pd","w":1785,"v":33.3},{"s":"22c-Pd","w":1770,"v":28.8},{"s":"22c-Pd","w":1750,"v":27.4},{"s":"22c-Pd","w":1725,"v":26.5},{"s":"22c-Pd","w":1712,"v":30},{"s":"22c-Pd","w":1700,"v":38},
{"s":"26c-Pd","w":2250,"v":22.7},{"s":"26c-Pd","w":2080,"v":22.7},{"s":"26c-Pd","w":2070,"v":26.3},{"s":"26c-Pd","w":2065,"v":31.9},{"s":"26c-Pd","w":2060,"v":39.1},{"s":"26c-Pd","w":2055,"v":48.4},{"s":"26c-Pd","w":2048,"v":63.7},{"s":"26c-Pd","w":2043,"v":72.5},{"s":"26c-Pd","w":2040,"v":74},{"s":"26c-Pd","w":2035,"v":71.4},{"s":"26c-Pd","w":2028,"v":59.6},{"s":"26c-Pd","w":2020,"v":48.4},{"s":"26c-Pd","w":2010,"v":39.1},{"s":"26c-Pd","w":1995,"v":31.9},{"s":"26c-Pd","w":1980,"v":27.8},{"s":"26c-Pd","w":1965,"v":25.8},{"s":"26c-Pd","w":1945,"v":32.7},{"s":"26c-Pd","w":1925,"v":53.7},{"s":"26c-Pd","w":1912,"v":72.7},{"s":"26c-Pd","w":1900,"v":82},{"s":"26c-Pd","w":1888,"v":72.7},{"s":"26c-Pd","w":1875,"v":60.4},{"s":"26c-Pd","w":1851,"v":55.6},{"s":"26c-Pd","w":1830,"v":53.7},{"s":"26c-Pd","w":1815,"v":50.8},{"s":"26c-Pd","w":1800,"v":43.2},{"s":"26c-Pd","w":1785,"v":33.7},{"s":"26c-Pd","w":1770,"v":28.9},{"s":"26c-Pd","w":1750,"v":27.5},{"s":"26c-Pd","w":1725,"v":26.5},{"s":"26c-Pd","w":1712,"v":30},{"s":"26c-Pd","w":1700,"v":38},
{"s":"30c-Pd","w":2250,"v":22.7},{"s":"30c-Pd","w":2080,"v":22.7},{"s":"30c-Pd","w":2070,"v":26.2},{"s":"30c-Pd","w":2065,"v":31.6},{"s":"30c-Pd","w":2060,"v":38.5},{"s":"30c-Pd","w":2055,"v":47.4},{"s":"30c-Pd","w":2048,"v":62.1},{"s":"30c-Pd","w":2043,"v":70.5},{"s":"30c-Pd","w":2040,"v":72},{"s":"30c-Pd","w":2035,"v":69.5},{"s":"30c-Pd","w":2028,"v":58.2},{"s":"30c-Pd","w":2020,"v":47.4},{"s":"30c-Pd","w":2010,"v":38.5},{"s":"30c-Pd","w":1995,"v":31.6},{"s":"30c-Pd","w":1980,"v":27.6},{"s":"30c-Pd","w":1965,"v":25.7},{"s":"30c-Pd","w":1945,"v":33},{"s":"30c-Pd","w":1925,"v":55},{"s":"30c-Pd","w":1912,"v":75},{"s":"30c-Pd","w":1900,"v":84.7},{"s":"30c-Pd","w":1888,"v":75},{"s":"30c-Pd","w":1875,"v":62},{"s":"30c-Pd","w":1851,"v":57},{"s":"30c-Pd","w":1830,"v":55},{"s":"30c-Pd","w":1815,"v":52},{"s":"30c-Pd","w":1800,"v":44},{"s":"30c-Pd","w":1785,"v":34},{"s":"30c-Pd","w":1770,"v":29},{"s":"30c-Pd","w":1750,"v":27.5},{"s":"30c-Pd","w":1725,"v":26.5},{"s":"30c-Pd","w":1712,"v":30},{"s":"30c-Pd","w":1700,"v":38}
],
"BI":[
{"s":"0c-Pd","w":2000,"v":140},{"s":"0c-Pd","w":1986.5,"v":100},{"s":"0c-Pd","w":1966.8,"v":66.7},{"s":"0c-Pd","w":1947,"v":46.7},{"s":"0c-Pd","w":1927.6,"v":33.3},{"s":"0c-Pd","w":1903,"v":28.3},{"s":"0c-Pd","w":1878.5,"v":31.7},{"s":"0c-Pd","w":1856,"v":35},{"s":"0c-Pd","w":1850,"v":38.5},{"s":"0c-Pd","w":1844,"v":33},{"s":"0c-Pd","w":1830,"v":31.7},{"s":"0c-Pd","w":1800,"v":33},{"s":"0c-Pd","w":1756,"v":39},{"s":"0c-Pd","w":1722,"v":36.7},{"s":"0c-Pd","w":1702,"v":33.3},{"s":"0c-Pd","w":1692,"v":32},
{"s":"1c-Pd","w":2016,"v":88.3},{"s":"1c-Pd","w":1996,"v":56.7},{"s":"1c-Pd","w":1966.8,"v":38.3},{"s":"1c-Pd","w":1932,"v":28.3},{"s":"1c-Pd","w":1903,"v":35},{"s":"1c-Pd","w":1878.5,"v":31.7},{"s":"1c-Pd","w":1829,"v":31.7},{"s":"1c-Pd","w":1780,"v":31.7},{"s":"1c-Pd","w":1731,"v":30},{"s":"1c-Pd","w":1702,"v":35},{"s":"1c-Pd","w":1692,"v":43.3},
{"s":"2c-Pd","w":2016,"v":71.7},{"s":"2c-Pd","w":1996,"v":43.3},{"s":"2c-Pd","w":1966.8,"v":26.7},{"s":"2c-Pd","w":1942,"v":21.7},{"s":"2c-Pd","w":1922.6,"v":26.7},{"s":"2c-Pd","w":1898,"v":25},{"s":"2c-Pd","w":1829,"v":20.7},{"s":"2c-Pd","w":1761,"v":19.3},{"s":"2c-Pd","w":1722,"v":21.7},{"s":"2c-Pd","w":1692,"v":33.3}
],
"C":[
{"s":"6c_2Pt","w":2200,"v":113.3},{"s":"6c_2Pt","w":2112,"v":113.3},{"s":"6c_2Pt","w":2100,"v":117.5},{"s":"6c_2Pt","w":2092,"v":123.3},{"s":"6c_2Pt","w":2081,"v":166.7},{"s":"6c_2Pt","w":2073,"v":190.9},{"s":"6c_2Pt","w":2068,"v":196.7},{"s":"6c_2Pt","w":2062,"v":194.2},{"s":"6c_2Pt","w":2055,"v":183.4},{"s":"6c_2Pt","w":2044,"v":166.7},{"s":"6c_2Pt","w":2032,"v":146.7},{"s":"6c_2Pt","w":2021,"v":133.3},{"s":"6c_2Pt","w":2003,"v":123.3},{"s":"6c_2Pt","w":1986,"v":120},{"s":"6c_2Pt","w":1963,"v":119.1},{"s":"6c_2Pt","w":1932,"v":121.6},{"s":"6c_2Pt","w":1917,"v":125},{"s":"6c_2Pt","w":1908,"v":130.8},{"s":"6c_2Pt","w":1894,"v":126.6},{"s":"6c_2Pt","w":1870,"v":124.1},{"s":"6c_2Pt","w":1848,"v":122.5},{"s":"6c_2Pt","w":1790,"v":118.3},{"s":"6c_2Pt","w":1740,"v":115},{"s":"6c_2Pt","w":1700,"v":115.8},
{"s":"6c_3Pd","w":2200,"v":113.3},{"s":"6c_3Pd","w":2112,"v":113.3},{"s":"6c_3Pd","w":2100,"v":116},{"s":"6c_3Pd","w":2095,"v":119.8},{"s":"6c_3Pd","w":2084,"v":146.5},{"s":"6c_3Pd","w":2075,"v":162.3},{"s":"6c_3Pd","w":2061,"v":167.7},{"s":"6c_3Pd","w":2050,"v":163.3},{"s":"6c_3Pd","w":2044,"v":160},{"s":"6c_3Pd","w":2032,"v":148.7},{"s":"6c_3Pd","w":2021,"v":133.4},{"s":"6c_3Pd","w":2003,"v":123.1},{"s":"6c_3Pd","w":1986,"v":119.8},{"s":"6c_3Pd","w":1975,"v":119.8},{"s":"6c_3Pd","w":1952,"v":125.3},{"s":"6c_3Pd","w":1932,"v":130.2},{"s":"6c_3Pd","w":1908,"v":133.4},{"s":"6c_3Pd","w":1894,"v":126.9},{"s":"6c_3Pd","w":1870,"v":124.2},{"s":"6c_3Pd","w":1848,"v":122.5},{"s":"6c_3Pd","w":1790,"v":118.2},{"s":"6c_3Pd","w":1740,"v":114.9},{"s":"6c_3Pd","w":1700,"v":115.5},
{"s":"5c_2Pt","w":2200,"v":67.3},{"s":"5c_2Pt","w":2112,"v":67.3},{"s":"5c_2Pt","w":2100,"v":71.2},{"s":"5c_2Pt","w":2092,"v":76.6},{"s":"5c_2Pt","w":2081,"v":117},{"s":"5c_2Pt","w":2073,"v":139.6},{"s":"5c_2Pt","w":2068,"v":145},{"s":"5c_2Pt","w":2062,"v":142.7},{"s":"5c_2Pt","w":2055,"v":132.6},{"s":"5c_2Pt","w":2044,"v":117},{"s":"5c_2Pt","w":2032,"v":98.4},{"s":"5c_2Pt","w":2021,"v":86},{"s":"5c_2Pt","w":2003,"v":76.6},{"s":"5c_2Pt","w":1986,"v":73.5},{"s":"5c_2Pt","w":1963,"v":72.7},{"s":"5c_2Pt","w":1932,"v":75.1},{"s":"5c_2Pt","w":1917,"v":78.2},{"s":"5c_2Pt","w":1908,"v":83.6},{"s":"5c_2Pt","w":1894,"v":79.7},{"s":"5c_2Pt","w":1870,"v":77.4},{"s":"5c_2Pt","w":1848,"v":75.9},{"s":"5c_2Pt","w":1790,"v":72},{"s":"5c_2Pt","w":1740,"v":68.9},{"s":"5c_2Pt","w":1700,"v":69.6},
{"s":"5c_3Pd","w":2200,"v":67.3},{"s":"5c_3Pd","w":2112,"v":67.3},{"s":"5c_3Pd","w":2100,"v":69.5},{"s":"5c_3Pd","w":2095,"v":72.6},{"s":"5c_3Pd","w":2084,"v":94.4},{"s":"5c_3Pd","w":2075,"v":107.3},{"s":"5c_3Pd","w":2061,"v":111.7},{"s":"5c_3Pd","w":2050,"v":108.1},{"s":"5c_3Pd","w":2044,"v":105.5},{"s":"5c_3Pd","w":2032,"v":96.2},{"s":"5c_3Pd","w":2021,"v":83.7},{"s":"5c_3Pd","w":2003,"v":75.3},{"s":"5c_3Pd","w":1986,"v":72.6},{"s":"5c_3Pd","w":1975,"v":72.6},{"s":"5c_3Pd","w":1952,"v":77.1},{"s":"5c_3Pd","w":1932,"v":81.1},{"s":"5c_3Pd","w":1908,"v":83.7},{"s":"5c_3Pd","w":1894,"v":78.4},{"s":"5c_3Pd","w":1870,"v":76.2},{"s":"5c_3Pd","w":1848,"v":74.8},{"s":"5c_3Pd","w":1790,"v":71.3},{"s":"5c_3Pd","w":1740,"v":68.6},{"s":"5c_3Pd","w":1700,"v":69.1},
{"s":"4c_2Pt","w":2200,"v":20},{"s":"4c_2Pt","w":2112,"v":20},{"s":"4c_2Pt","w":2100,"v":23.3},{"s":"4c_2Pt","w":2092,"v":28},{"s":"4c_2Pt","w":2081,"v":62.7},{"s":"4c_2Pt","w":2073,"v":82},{"s":"4c_2Pt","w":2068,"v":86.7},{"s":"4c_2Pt","w":2062,"v":84.7},{"s":"4c_2Pt","w":2055,"v":76},{"s":"4c_2Pt","w":2044,"v":62.7},{"s":"4c_2Pt","w":2032,"v":46.7},{"s":"4c_2Pt","w":2021,"v":36},{"s":"4c_2Pt","w":2003,"v":28},{"s":"4c_2Pt","w":1986,"v":25.3},{"s":"4c_2Pt","w":1963,"v":24.7},{"s":"4c_2Pt","w":1932,"v":26.7},{"s":"4c_2Pt","w":1917,"v":29.3},{"s":"4c_2Pt","w":1908,"v":33},{"s":"4c_2Pt","w":1894,"v":30.7},{"s":"4c_2Pt","w":1870,"v":28.7},{"s":"4c_2Pt","w":1848,"v":27.3},{"s":"4c_2Pt","w":1790,"v":24},{"s":"4c_2Pt","w":1740,"v":21.3},{"s":"4c_2Pt","w":1700,"v":22},
{"s":"4c_3Pd","w":2200,"v":20},{"s":"4c_3Pd","w":2112,"v":20},{"s":"4c_3Pd","w":2100,"v":21.8},{"s":"4c_3Pd","w":2095,"v":24.3},{"s":"4c_3Pd","w":2084,"v":42},{"s":"4c_3Pd","w":2075,"v":52.4},{"s":"4c_3Pd","w":2061,"v":56},{"s":"4c_3Pd","w":2050,"v":53.1},{"s":"4c_3Pd","w":2044,"v":51},{"s":"4c_3Pd","w":2032,"v":43.4},{"s":"4c_3Pd","w":2021,"v":33.3},{"s":"4c_3Pd","w":2003,"v":26.5},{"s":"4c_3Pd","w":1986,"v":24.3},{"s":"4c_3Pd","w":1975,"v":24.3},{"s":"4c_3Pd","w":1952,"v":27.9},{"s":"4c_3Pd","w":1932,"v":31.2},{"s":"4c_3Pd","w":1908,"v":33.3},{"s":"4c_3Pd","w":1894,"v":29},{"s":"4c_3Pd","w":1870,"v":27.2},{"s":"4c_3Pd","w":1848,"v":26.1},{"s":"4c_3Pd","w":1790,"v":23.2},{"s":"4c_3Pd","w":1740,"v":21.1},{"s":"4c_3Pd","w":1700,"v":21.4}
],
"D":[
{"s":"0c-Ru","w":2200,"v":17.4},{"s":"0c-Ru","w":2100,"v":18},{"s":"0c-Ru","w":2090,"v":22},{"s":"0c-Ru","w":2086,"v":28},{"s":"0c-Ru","w":2080,"v":80},{"s":"0c-Ru","w":2076,"v":140},{"s":"0c-Ru","w":2072,"v":180},{"s":"0c-Ru","w":2069.4,"v":192.4},{"s":"0c-Ru","w":2066,"v":180},{"s":"0c-Ru","w":2063,"v":169},{"s":"0c-Ru","w":2059,"v":164},{"s":"0c-Ru","w":2056,"v":167},{"s":"0c-Ru","w":2052,"v":158},{"s":"0c-Ru","w":2046,"v":139},{"s":"0c-Ru","w":2038,"v":122},{"s":"0c-Ru","w":2029,"v":105.7},{"s":"0c-Ru","w":2020,"v":92},{"s":"0c-Ru","w":2012,"v":79},{"s":"0c-Ru","w":2003,"v":67},{"s":"0c-Ru","w":1995,"v":56},{"s":"0c-Ru","w":1986,"v":48},{"s":"0c-Ru","w":1977,"v":42},{"s":"0c-Ru","w":1962,"v":35},{"s":"0c-Ru","w":1948,"v":29},{"s":"0c-Ru","w":1930,"v":25},{"s":"0c-Ru","w":1900,"v":23},{"s":"0c-Ru","w":1868,"v":23},{"s":"0c-Ru","w":1800,"v":22.5},{"s":"0c-Ru","w":1750,"v":22},{"s":"0c-Ru","w":1700,"v":22},
{"s":"1c-Ru","w":2200,"v":17.4},{"s":"1c-Ru","w":2085,"v":18},{"s":"1c-Ru","w":2075,"v":22},{"s":"1c-Ru","w":2071,"v":40},{"s":"1c-Ru","w":2067,"v":110},{"s":"1c-Ru","w":2063.5,"v":148},{"s":"1c-Ru","w":2060,"v":143},{"s":"1c-Ru","w":2057,"v":138},{"s":"1c-Ru","w":2052,"v":144},{"s":"1c-Ru","w":2048,"v":135},{"s":"1c-Ru","w":2043,"v":122},{"s":"1c-Ru","w":2029,"v":102},{"s":"1c-Ru","w":2012,"v":76},{"s":"1c-Ru","w":1995,"v":59},{"s":"1c-Ru","w":1977,"v":46},{"s":"1c-Ru","w":1962,"v":37},{"s":"1c-Ru","w":1948,"v":31},{"s":"1c-Ru","w":1925,"v":24},{"s":"1c-Ru","w":1900,"v":22},{"s":"1c-Ru","w":1868,"v":22.5},{"s":"1c-Ru","w":1800,"v":21},{"s":"1c-Ru","w":1750,"v":20.7},{"s":"1c-Ru","w":1700,"v":20.7},
{"s":"2c-Ru","w":2200,"v":17.4},{"s":"2c-Ru","w":2085,"v":18},{"s":"2c-Ru","w":2075,"v":22},{"s":"2c-Ru","w":2070,"v":50},{"s":"2c-Ru","w":2066,"v":120},{"s":"2c-Ru","w":2062.5,"v":157.4},{"s":"2c-Ru","w":2058,"v":155},{"s":"2c-Ru","w":2052,"v":150},{"s":"2c-Ru","w":2043,"v":132},{"s":"2c-Ru","w":2029,"v":106},{"s":"2c-Ru","w":2012,"v":79},{"s":"2c-Ru","w":1995,"v":61},{"s":"2c-Ru","w":1977,"v":49},{"s":"2c-Ru","w":1962,"v":40},{"s":"2c-Ru","w":1948,"v":34},{"s":"2c-Ru","w":1925,"v":29},{"s":"2c-Ru","w":1900,"v":26},{"s":"2c-Ru","w":1868,"v":25},{"s":"2c-Ru","w":1800,"v":23},{"s":"2c-Ru","w":1750,"v":22.5},{"s":"2c-Ru","w":1700,"v":22.5},
{"s":"5c-Ru","w":2200,"v":17.4},{"s":"5c-Ru","w":2090,"v":18},{"s":"5c-Ru","w":2078,"v":25},{"s":"5c-Ru","w":2072,"v":60},{"s":"5c-Ru","w":2066,"v":130},{"s":"5c-Ru","w":2061,"v":168},{"s":"5c-Ru","w":2057,"v":176.4},{"s":"5c-Ru","w":2052,"v":168},{"s":"5c-Ru","w":2047,"v":155},{"s":"5c-Ru","w":2043,"v":148},{"s":"5c-Ru","w":2029,"v":116},{"s":"5c-Ru","w":2012,"v":82},{"s":"5c-Ru","w":1995,"v":64},{"s":"5c-Ru","w":1986,"v":61},{"s":"5c-Ru","w":1977,"v":56},{"s":"5c-Ru","w":1965,"v":47},{"s":"5c-Ru","w":1954,"v":39},{"s":"5c-Ru","w":1940,"v":32},{"s":"5c-Ru","w":1925,"v":29},{"s":"5c-Ru","w":1897,"v":27.4},{"s":"5c-Ru","w":1868,"v":26.5},{"s":"5c-Ru","w":1800,"v":26},{"s":"5c-Ru","w":1750,"v":25.7},{"s":"5c-Ru","w":1700,"v":25.7},
{"s":"10c-Ru","w":2200,"v":17.4},{"s":"10c-Ru","w":2085,"v":18},{"s":"10c-Ru","w":2072,"v":22},{"s":"10c-Ru","w":2066,"v":40},{"s":"10c-Ru","w":2062,"v":90},{"s":"10c-Ru","w":2058,"v":135},{"s":"10c-Ru","w":2055,"v":155},{"s":"10c-Ru","w":2052,"v":162.4},{"s":"10c-Ru","w":2049,"v":158},{"s":"10c-Ru","w":2045,"v":140},{"s":"10c-Ru","w":2040,"v":118},{"s":"10c-Ru","w":2033,"v":100},{"s":"10c-Ru","w":2028,"v":90},{"s":"10c-Ru","w":2023,"v":88},{"s":"10c-Ru","w":2015,"v":93},{"s":"10c-Ru","w":2008,"v":99},{"s":"10c-Ru","w":2002,"v":101},{"s":"10c-Ru","w":1995,"v":97},{"s":"10c-Ru","w":1989,"v":90},{"s":"10c-Ru","w":1980,"v":79},{"s":"10c-Ru","w":1970,"v":68},{"s":"10c-Ru","w":1960,"v":59},{"s":"10c-Ru","w":1948,"v":52},{"s":"10c-Ru","w":1930,"v":44},{"s":"10c-Ru","w":1910,"v":38},{"s":"10c-Ru","w":1890,"v":34},{"s":"10c-Ru","w":1868,"v":32},{"s":"10c-Ru","w":1840,"v":30},{"s":"10c-Ru","w":1810,"v":28.5},{"s":"10c-Ru","w":1780,"v":28},{"s":"10c-Ru","w":1750,"v":29},{"s":"10c-Ru","w":1720,"v":30},{"s":"10c-Ru","w":1700,"v":31},
{"s":"15c-Ru","w":2200,"v":17.4},{"s":"15c-Ru","w":2080,"v":17.5},{"s":"15c-Ru","w":2062,"v":19},{"s":"15c-Ru","w":2055,"v":25},{"s":"15c-Ru","w":2050,"v":55},{"s":"15c-Ru","w":2046,"v":90},{"s":"15c-Ru","w":2041,"v":108},{"s":"15c-Ru","w":2037,"v":110.7},{"s":"15c-Ru","w":2033,"v":106},{"s":"15c-Ru","w":2028,"v":103},{"s":"15c-Ru","w":2023,"v":110},{"s":"15c-Ru","w":2018,"v":128},{"s":"15c-Ru","w":2013,"v":145},{"s":"15c-Ru","w":2009,"v":151.7},{"s":"15c-Ru","w":2003,"v":149},{"s":"15c-Ru","w":1995,"v":140},{"s":"15c-Ru","w":1989,"v":130},{"s":"15c-Ru","w":1980,"v":117},{"s":"15c-Ru","w":1972,"v":104},{"s":"15c-Ru","w":1960,"v":88},{"s":"15c-Ru","w":1948,"v":75},{"s":"15c-Ru","w":1937,"v":66},{"s":"15c-Ru","w":1925,"v":58},{"s":"15c-Ru","w":1910,"v":50},{"s":"15c-Ru","w":1897,"v":45},{"s":"15c-Ru","w":1880,"v":40},{"s":"15c-Ru","w":1868,"v":37},{"s":"15c-Ru","w":1840,"v":33},{"s":"15c-Ru","w":1810,"v":30},{"s":"15c-Ru","w":1780,"v":29},{"s":"15c-Ru","w":1750,"v":29},{"s":"15c-Ru","w":1720,"v":29.5},{"s":"15c-Ru","w":1700,"v":30},
{"s":"20c-Ru","w":2200,"v":17.4},{"s":"20c-Ru","w":2100,"v":17.4},{"s":"20c-Ru","w":2065,"v":18.5},{"s":"20c-Ru","w":2052,"v":20},{"s":"20c-Ru","w":2048,"v":50},{"s":"20c-Ru","w":2045,"v":80},{"s":"20c-Ru","w":2041,"v":92},{"s":"20c-Ru","w":2036,"v":95},{"s":"20c-Ru","w":2030,"v":96},{"s":"20c-Ru","w":2025,"v":112},{"s":"20c-Ru","w":2020,"v":132},{"s":"20c-Ru","w":2014,"v":155},{"s":"20c-Ru","w":2009,"v":174},{"s":"20c-Ru","w":2003,"v":171},{"s":"20c-Ru","w":1995,"v":160},{"s":"20c-Ru","w":1989,"v":151},{"s":"20c-Ru","w":1980,"v":137},{"s":"20c-Ru","w":1972,"v":124},{"s":"20c-Ru","w":1960,"v":105},{"s":"20c-Ru","w":1948,"v":89},{"s":"20c-Ru","w":1937,"v":76},{"s":"20c-Ru","w":1925,"v":65},{"s":"20c-Ru","w":1910,"v":56},{"s":"20c-Ru","w":1897,"v":50},{"s":"20c-Ru","w":1880,"v":45},{"s":"20c-Ru","w":1868,"v":42},{"s":"20c-Ru","w":1840,"v":37},{"s":"20c-Ru","w":1810,"v":34},{"s":"20c-Ru","w":1780,"v":33},{"s":"20c-Ru","w":1750,"v":34},{"s":"20c-Ru","w":1720,"v":36},{"s":"20c-Ru","w":1700,"v":38},
{"s":"25c-Ru","w":2200,"v":17.4},{"s":"25c-Ru","w":2100,"v":17.4},{"s":"25c-Ru","w":2070,"v":18.5},{"s":"25c-Ru","w":2055,"v":20},{"s":"25c-Ru","w":2049,"v":40},{"s":"25c-Ru","w":2046,"v":75},{"s":"25c-Ru","w":2043,"v":92},{"s":"25c-Ru","w":2038,"v":99},{"s":"25c-Ru","w":2033,"v":96},{"s":"25c-Ru","w":2028,"v":99},{"s":"25c-Ru","w":2023,"v":120},{"s":"25c-Ru","w":2018,"v":143},{"s":"25c-Ru","w":2014,"v":162},{"s":"25c-Ru","w":2009,"v":184},{"s":"25c-Ru","w":2003,"v":181},{"s":"25c-Ru","w":1995,"v":170},{"s":"25c-Ru","w":1989,"v":160},{"s":"25c-Ru","w":1980,"v":146},{"s":"25c-Ru","w":1972,"v":132},{"s":"25c-Ru","w":1960,"v":112},{"s":"25c-Ru","w":1948,"v":95},{"s":"25c-Ru","w":1937,"v":81},{"s":"25c-Ru","w":1925,"v":69},{"s":"25c-Ru","w":1910,"v":59},{"s":"25c-Ru","w":1897,"v":53},{"s":"25c-Ru","w":1880,"v":47},{"s":"25c-Ru","w":1868,"v":44},{"s":"25c-Ru","w":1840,"v":38.5},{"s":"25c-Ru","w":1810,"v":34.5},{"s":"25c-Ru","w":1780,"v":33},{"s":"25c-Ru","w":1750,"v":33},{"s":"25c-Ru","w":1720,"v":34},{"s":"25c-Ru","w":1700,"v":35},
{"s":"35c-Ru","w":2200,"v":17.4},{"s":"35c-Ru","w":2100,"v":17.4},{"s":"35c-Ru","w":2070,"v":18.5},{"s":"35c-Ru","w":2055,"v":20},{"s":"35c-Ru","w":2049,"v":40},{"s":"35c-Ru","w":2046,"v":75},{"s":"35c-Ru","w":2043,"v":92},{"s":"35c-Ru","w":2038,"v":99},{"s":"35c-Ru","w":2033,"v":96},{"s":"35c-Ru","w":2028,"v":100},{"s":"35c-Ru","w":2023,"v":125},{"s":"35c-Ru","w":2018,"v":150},{"s":"35c-Ru","w":2014,"v":170},{"s":"35c-Ru","w":2009,"v":196.4},{"s":"35c-Ru","w":2003,"v":192},{"s":"35c-Ru","w":1995,"v":180},{"s":"35c-Ru","w":1989,"v":169},{"s":"35c-Ru","w":1980,"v":154},{"s":"35c-Ru","w":1972,"v":139},{"s":"35c-Ru","w":1960,"v":118},{"s":"35c-Ru","w":1948,"v":99},{"s":"35c-Ru","w":1937,"v":85},{"s":"35c-Ru","w":1925,"v":72.4},{"s":"35c-Ru","w":1910,"v":62},{"s":"35c-Ru","w":1897,"v":55.7},{"s":"35c-Ru","w":1880,"v":49.5},{"s":"35c-Ru","w":1868,"v":45.7},{"s":"35c-Ru","w":1840,"v":40},{"s":"35c-Ru","w":1810,"v":35.7},{"s":"35c-Ru","w":1780,"v":34},{"s":"35c-Ru","w":1750,"v":34},{"s":"35c-Ru","w":1720,"v":35},{"s":"35c-Ru","w":1700,"v":36}
]
},
"columns":2,"spacing":{"row":75,"column":62},"bounds":"flush","resolve":{"scale":{"color":"independent"}},
"concat":[
{"width":290,"height":233,
"title":{"text":"a","anchor":"start","frame":"group","dx":-29,"offset":-12,"fontSize":14,"fontWeight":"bold","baseline":"alphabetic","color":"black"},
"layer":[
{"encoding":{
"x":{"field":"w","type":"quantitative","scale":{"domain":[1700,2300],"reverse":true,"nice":false,"zero":false},"axis":{"orient":"bottom","title":"Wavenumber (cm⁻¹)","values":[2300,2250,2200,2150,2100,2050,2000,1950,1900,1850,1800,1750,1700],"labelExpr":"datum.value % 100 == 0 ? format(datum.value, ',') : ''","tickSize":4,"labelPadding":2,"titlePadding":4,"labelFlush":false,"labelOverlap":false}},
"y":{"field":"v","type":"quantitative","scale":{"domain":[0,233],"nice":false,"zero":false},"axis":{"orient":"left","title":"Absorbance (a.u.)","labels":false,"ticks":false,"domain":false,"titlePadding":16}}},
"layer":[
{"data":{"name":"A"},"mark":{"type":"line","strokeWidth":1.3,"clip":true,"interpolate":"monotone"},
"encoding":{"color":{"field":"s","type":"nominal","scale":{"domain":["0c-Pt","1c-Pt","2c-Pt","3c-Pt","4c-Pt","5c-Pt","6c-Pt","7c-Pt","8c-Pt","10c-Pt"],"range":["#000000","#ff0000","#0000ff","#ff00ff","#008000","#000080","#8000ff","#800080","#800000","#808000"]},
"legend":{"title":null,"orient":"none","legendX":11,"legendY":11,"symbolType":"M-1.58,0H1.58","symbolSize":90,"symbolStrokeWidth":1.5,"labelFontSize":10,"rowPadding":0.5,"padding":3,"strokeColor":"black","fillColor":"white","labelOffset":8,"symbolOffset":3}}}},
{"data":{"values":[{"w":2077,"v":207.7,"t":"2,075"},{"w":2046,"v":25.3,"t":"2,054"},{"w":1919,"v":52,"t":"1,917"}]},"mark":{"type":"text","fontSize":9,"color":"black","align":"center","baseline":"middle"},"encoding":{"text":{"field":"t"}}},
{"data":{"values":[{"w":2098,"v":49.7,"t":"2,056"}]},"mark":{"type":"text","fontSize":9,"color":"#2a2ae0","align":"right","baseline":"middle"},"encoding":{"text":{"field":"t"}}},
{"data":{"values":[{"w":2095,"v":50,"w2":2101.4,"v2":201},{"w":1925.5,"v":43.7,"w2":1891,"v2":10.3}]},"mark":{"type":"rule","color":"black","strokeWidth":1},"encoding":{"x2":{"field":"w2"},"y2":{"field":"v2"}}},
{"data":{"values":[{"w":2101.4,"v":201}]},"mark":{"type":"point","shape":"M0,0L0.6,1.8L-0.6,1.8Z","size":64,"filled":true,"color":"black","opacity":1,"angle":358.5},"encoding":{}},
{"data":{"values":[{"w":1891,"v":10.3}]},"mark":{"type":"point","shape":"M0,0L0.6,1.8L-0.6,1.8Z","size":64,"filled":true,"color":"black","opacity":1,"angle":153},"encoding":{}},
{"data":{"values":[{"w":1735.8,"v":23.7,"v2":37.7}]},"mark":{"type":"rule","color":"black"},"encoding":{"y2":{"field":"v2"}}},
{"data":{"values":[{"w":1735.8,"v":23.7},{"w":1735.8,"v":37.7}]},"mark":{"type":"tick","orient":"horizontal","size":5,"thickness":1,"color":"black"},"encoding":{}}
]},
{"encoding":{
"x":{"field":"w","type":"quantitative","scale":{"domain":[1760,2187],"reverse":true,"range":[169.3,286],"nice":false,"zero":false},"axis":{"orient":"bottom","offset":-127.7,"title":null,"values":[2175,2100,2025,1950,1875,1800],"labelExpr":"datum.value % 150 == 0 ? format(datum.value, ',') : ''","tickSize":3,"labelFontSize":8.5,"labelPadding":1,"labelFlush":false,"labelOverlap":false}},
"y":{"field":"v","type":"quantitative","scale":{"domain":[0,101.3],"range":[105.3,4],"nice":false,"zero":false},"axis":{"orient":"left","offset":-169.3,"title":null,"labels":false,"ticks":false,"domain":true}}},
"layer":[
{"data":{"name":"AI"},"mark":{"type":"line","strokeWidth":1.1,"clip":true,"interpolate":"monotone"},
"encoding":{"color":{"field":"s","type":"nominal","scale":{"domain":["0c-Pt","1c-Pt","2c-Pt","3c-Pt","4c-Pt","5c-Pt","6c-Pt","7c-Pt","8c-Pt","10c-Pt"],"range":["#000000","#ff0000","#0000ff","#ff00ff","#008000","#000080","#8000ff","#800080","#800000","#808000"]},
"legend":{"title":null,"orient":"none","legendX":11,"legendY":11,"symbolType":"M-1.58,0H1.58","symbolSize":90,"symbolStrokeWidth":1.5,"labelFontSize":10,"rowPadding":0.5,"padding":3,"strokeColor":"black","fillColor":"white","labelOffset":8,"symbolOffset":3}}}},
{"data":{"values":[{"w":1860,"v":87.6,"t":"1,917"},{"w":2034,"v":6,"t":"2,067"}]},"mark":{"type":"text","fontSize":9,"color":"black","align":"center","baseline":"middle"},"encoding":{"text":{"field":"t"}}},
{"data":{"values":[{"w":1906,"v":86,"w2":1906,"v2":21},{"w":2040.4,"v":11.3,"w2":2055,"v2":16}]},"mark":{"type":"rule","color":"black"},"encoding":{"x2":{"field":"w2"},"y2":{"field":"v2"}}},
{"data":{"values":[{"w":1906,"v":21}]},"mark":{"type":"point","shape":"M0,0L0.6,1.8L-0.6,1.8Z","size":64,"filled":true,"color":"black","opacity":1,"angle":180},"encoding":{}},
{"data":{"values":[{"w":2055,"v":16}]},"mark":{"type":"point","shape":"M0,0L0.6,1.8L-0.6,1.8Z","size":40,"filled":true,"color":"black","opacity":1,"angle":320},"encoding":{}},
{"data":{"values":[{"w":1833,"v":1,"v2":22.6}]},"mark":{"type":"rule","color":"black"},"encoding":{"y2":{"field":"v2"}}},
{"data":{"values":[{"w":1833,"v":1},{"w":1833,"v":22.6}]},"mark":{"type":"tick","orient":"horizontal","size":5,"thickness":1,"color":"black"},"encoding":{}}
]},
{"data":{"values":[{"w":2000}]},"mark":{"type":"point","opacity":0},"encoding":{"x":{"field":"w","type":"quantitative","scale":{"domain":[1700,2300],"reverse":true,"nice":false,"zero":false},"axis":{"orient":"top","labels":false,"domain":false,"tickSize":-3,"title":null,"minExtent":0,"maxExtent":0,"values":[2300,2250,2200,2150,2100,2050,2000,1950,1900,1850,1800,1750,1700]}}}}
],
"resolve":{"scale":{"x":"independent","y":"independent"}}},

{"width":290,"height":233,
"title":{"text":"b","anchor":"start","frame":"group","dx":-29,"offset":-12,"fontSize":14,"fontWeight":"bold","baseline":"alphabetic","color":"black"},
"layer":[
{"encoding":{
"x":{"field":"w","type":"quantitative","scale":{"domain":[1700,2250],"reverse":true,"nice":false,"zero":false},"axis":{"orient":"bottom","title":"Wavenumber (cm⁻¹)","values":[2250,2200,2150,2100,2050,2000,1950,1900,1850,1800,1750,1700],"labelExpr":"datum.value % 100 == 0 ? format(datum.value, ',') : ''","tickSize":4,"labelPadding":2,"titlePadding":4,"labelFlush":false,"labelOverlap":false}},
"y":{"field":"v","type":"quantitative","scale":{"domain":[0,233],"nice":false,"zero":false},"axis":{"orient":"left","title":"Absorbance (a.u.)","labels":false,"ticks":false,"domain":false,"titlePadding":16}}},
"layer":[
{"data":{"name":"B"},"mark":{"type":"line","strokeWidth":1.3,"clip":true,"interpolate":"monotone"},
"encoding":{"color":{"field":"s","type":"nominal","scale":{"domain":["0c-Pd","1c-Pd","2c-Pd","3c-Pd","4c-Pd","5c-Pd","6c-Pd","10c-Pd","14c-Pd","18c-Pd","22c-Pd","26c-Pd","30c-Pd"],"range":["#000000","#ff0000","#0000ff","#ff00ff","#008000","#000080","#8000ff","#800080","#800000","#808000","#4080c0","#008080","#a0522d"]},
"legend":{"title":null,"orient":"none","legendX":8,"legendY":44,"symbolType":"M-1.88,0H1.88","symbolSize":64,"symbolStrokeWidth":1.5,"labelFontSize":10,"rowPadding":0.3,"padding":3,"strokeColor":"black","fillColor":"white","labelOffset":8,"symbolOffset":3}}}},
{"data":{"values":[{"w":2088.4,"v":215.3,"t":"2,079"}]},"mark":{"type":"text","fontSize":9,"color":"black","align":"right","baseline":"middle"},"encoding":{"text":{"field":"t"}}},
{"data":{"values":[{"w":2055.5,"v":215.3,"t":"2,063"}]},"mark":{"type":"text","fontSize":9,"color":"black","align":"left","baseline":"middle"},"encoding":{"text":{"field":"t"}}},
{"data":{"values":[{"w":1899,"v":100.3,"t":"1,900"},{"w":1849.4,"v":72,"t":"1,851"}]},"mark":{"type":"text","fontSize":9,"color":"black","align":"center","baseline":"middle"},"encoding":{"text":{"field":"t"}}},
{"data":{"values":[{"w":1900,"v":17,"v2":95.3},{"w":1851,"v":17,"v2":65.3}]},"mark":{"type":"rule","color":"black"},"encoding":{"y2":{"field":"v2"}}},
{"data":{"values":[{"w":2028.9,"v":137,"w2":2013,"v2":98.7},{"w":1940,"v":45.3,"w2":1940,"v2":85.3}]},"mark":{"type":"rule","color":"black"},"encoding":{"x2":{"field":"w2"},"y2":{"field":"v2"}}},
{"data":{"values":[{"w":2013,"v":98.7}]},"mark":{"type":"point","shape":"M0,0L0.6,1.8L-0.6,1.8Z","size":64,"filled":true,"color":"black","opacity":1,"angle":167.6},"encoding":{}},
{"data":{"values":[{"w":1940,"v":85.3}]},"mark":{"type":"point","shape":"M0,0L0.6,1.8L-0.6,1.8Z","size":64,"filled":true,"color":"black","opacity":1,"angle":0},"encoding":{}},
{"data":{"values":[{"w":1732,"v":42,"v2":57}]},"mark":{"type":"rule","color":"black"},"encoding":{"y2":{"field":"v2"}}},
{"data":{"values":[{"w":1732,"v":42},{"w":1732,"v":57}]},"mark":{"type":"tick","orient":"horizontal","size":5,"thickness":1,"color":"black"},"encoding":{}}
]},
{"encoding":{
"x":{"field":"w","type":"quantitative","scale":{"domain":[1692,2016],"reverse":true,"range":[177.3,287.3],"nice":false,"zero":false},"axis":{"orient":"bottom","offset":-137,"title":null,"values":[2000,1950,1900,1850,1800,1750,1700],"labelExpr":"datum.value % 100 == 0 ? format(datum.value, ',') : ''","tickSize":3,"labelFontSize":8.5,"labelPadding":1,"labelFlush":false,"labelOverlap":false}},
"y":{"field":"v","type":"quantitative","scale":{"domain":[0,90],"range":[96,6],"nice":false,"zero":false},"axis":{"orient":"left","offset":-177.3,"title":null,"labels":false,"ticks":false,"domain":true}}},
"layer":[
{"data":{"name":"BI"},"mark":{"type":"line","strokeWidth":1.1,"clip":true,"interpolate":"monotone"},
"encoding":{"color":{"field":"s","type":"nominal","scale":{"domain":["0c-Pd","1c-Pd","2c-Pd","3c-Pd","4c-Pd","5c-Pd","6c-Pd","10c-Pd","14c-Pd","18c-Pd","22c-Pd","26c-Pd","30c-Pd"],"range":["#000000","#ff0000","#0000ff","#ff00ff","#008000","#000080","#8000ff","#800080","#800000","#808000","#4080c0","#008080","#a0522d"]},
"legend":{"title":null,"orient":"none","legendX":8,"legendY":44,"symbolType":"M-1.88,0H1.88","symbolSize":64,"symbolStrokeWidth":1.5,"labelFontSize":10,"rowPadding":0.3,"padding":3,"strokeColor":"black","fillColor":"white","labelOffset":8,"symbolOffset":3}}}},
{"data":{"values":[{"w":1900,"v":50,"t":"1,900"},{"w":1829.4,"v":46.7,"t":"1,851"},{"w":1731.5,"v":46.7,"t":"0c"}]},"mark":{"type":"text","fontSize":9,"color":"black","align":"center","baseline":"middle"},"encoding":{"text":{"field":"t"}}},
{"data":{"values":[{"w":1741,"v":31.7,"t":"1c"}]},"mark":{"type":"text","fontSize":9,"color":"#ff0000","align":"center","baseline":"middle"},"encoding":{"text":{"field":"t"}}},
{"data":{"values":[{"w":1746,"v":11.7,"t":"2c"}]},"mark":{"type":"text","fontSize":9,"color":"#0000ff","align":"center","baseline":"middle"},"encoding":{"text":{"field":"t"}}},
{"data":{"values":[{"w":1900,"v":16.7,"v2":45},{"w":1849,"v":12.7,"v2":43.3}]},"mark":{"type":"rule","color":"black"},"encoding":{"y2":{"field":"v2"}}},
{"data":{"values":[{"w":1733.5,"v":66.7,"v2":86.7}]},"mark":{"type":"rule","color":"black"},"encoding":{"y2":{"field":"v2"}}},
{"data":{"values":[{"w":1733.5,"v":66.7},{"w":1733.5,"v":86.7}]},"mark":{"type":"tick","orient":"horizontal","size":5,"thickness":1,"color":"black"},"encoding":{}}
]},
{"data":{"values":[{"w":2000}]},"mark":{"type":"point","opacity":0},"encoding":{"x":{"field":"w","type":"quantitative","scale":{"domain":[1700,2250],"reverse":true,"nice":false,"zero":false},"axis":{"orient":"top","labels":false,"domain":false,"tickSize":-3,"title":null,"minExtent":0,"maxExtent":0,"values":[2250,2200,2150,2100,2050,2000,1950,1900,1850,1800,1750,1700]}}}}
],
"resolve":{"scale":{"x":"independent","y":"independent"}}},

{"width":290,"height":234,
"title":{"text":"c","anchor":"start","frame":"group","dx":-29,"offset":-14,"fontSize":14,"fontWeight":"bold","baseline":"alphabetic","color":"black"},
"layer":[
{"encoding":{
"x":{"field":"w","type":"quantitative","scale":{"domain":[1700,2200],"reverse":true,"nice":false,"zero":false},"axis":{"orient":"bottom","title":"Wavenumber (cm⁻¹)","values":[2200,2150,2100,2050,2000,1950,1900,1850,1800,1750,1700],"labelExpr":"datum.value % 100 == 0 ? format(datum.value, ',') : ''","tickSize":4,"labelPadding":2,"titlePadding":4,"labelFlush":false,"labelOverlap":false}},
"y":{"field":"v","type":"quantitative","scale":{"domain":[0,234],"nice":false,"zero":false},"axis":{"orient":"left","title":"Absorbance (a.u.)","labels":false,"ticks":false,"domain":false,"titlePadding":16}}},
"layer":[
{"data":{"name":"C"},"mark":{"type":"line","strokeWidth":1.4,"clip":true,"interpolate":"monotone"},
"encoding":{"color":{"field":"s","type":"nominal","scale":{"domain":["6c_2Pt","6c_3Pd","5c_2Pt","5c_3Pd","4c_2Pt","4c_3Pd"],"range":["#000000","#ff0000","#0000ff","#ff00ff","#008000","#000080"]},
"legend":{"title":null,"orient":"none","legendX":217,"legendY":15,"symbolType":"M-1.58,0H1.58","symbolSize":90,"symbolStrokeWidth":1.5,"labelFontSize":10,"rowPadding":0,"padding":3,"strokeColor":"black","fillColor":"white","labelOffset":8,"symbolOffset":3}}}},
{"data":{"values":[{"w":2083.8,"v":214.3,"t":"2,067"},{"w":2035.5,"v":214.3,"t":"2,058"},{"w":1954,"v":159.4,"t":"1,931"},{"w":1915,"v":159.4,"t":"1,908"}]},"mark":{"type":"text","fontSize":8.5,"color":"black","align":"center","baseline":"middle"},"encoding":{"text":{"field":"t"}}},
{"data":{"values":[{"w":2067,"v":48.3,"v2":210},{"w":2058,"v":46.7,"v2":210},{"w":1932.8,"v":28.3,"v2":155},{"w":1908.6,"v":25,"v2":155}]},"mark":{"type":"rule","color":"black"},"encoding":{"y2":{"field":"v2"}}},
{"data":{"values":[{"w":1747.6,"v":28.4,"v2":46.7}]},"mark":{"type":"rule","color":"black"},"encoding":{"y2":{"field":"v2"}}},
{"data":{"values":[{"w":1747.6,"v":28.4},{"w":1747.6,"v":46.7}]},"mark":{"type":"tick","orient":"horizontal","size":5,"thickness":1,"color":"black"},"encoding":{}}
]},
{"data":{"values":[{"w":2000}]},"mark":{"type":"point","opacity":0},"encoding":{"x":{"field":"w","type":"quantitative","scale":{"domain":[1700,2200],"reverse":true,"nice":false,"zero":false},"axis":{"orient":"top","labels":false,"domain":false,"tickSize":-3,"title":null,"minExtent":0,"maxExtent":0,"values":[2200,2150,2100,2050,2000,1950,1900,1850,1800,1750,1700]}}}}
],
"resolve":{"scale":{"x":"independent","y":"independent"}}},

{"width":290,"height":234,
"title":{"text":"d","anchor":"start","frame":"group","dx":-29,"offset":-14,"fontSize":14,"fontWeight":"bold","baseline":"alphabetic","color":"black"},
"layer":[
{"encoding":{
"x":{"field":"w","type":"quantitative","scale":{"domain":[1700,2200],"reverse":true,"nice":false,"zero":false},"axis":{"orient":"bottom","title":"Wavenumber (cm⁻¹)","values":[2200,2150,2100,2050,2000,1950,1900,1850,1800,1750,1700],"labelExpr":"datum.value % 100 == 0 ? format(datum.value, ',') : ''","tickSize":4,"labelPadding":2,"titlePadding":4,"labelFlush":false,"labelOverlap":false}},
"y":{"field":"v","type":"quantitative","scale":{"domain":[0,234],"nice":false,"zero":false},"axis":{"orient":"left","title":"Absorbance (a.u.)","labels":false,"ticks":false,"domain":false,"titlePadding":16}}},
"layer":[
{"data":{"name":"D"},"mark":{"type":"line","strokeWidth":1.4,"clip":true,"interpolate":"monotone"},
"encoding":{"color":{"field":"s","type":"nominal","scale":{"domain":["0c-Ru","1c-Ru","2c-Ru","5c-Ru","10c-Ru","15c-Ru","20c-Ru","25c-Ru","35c-Ru"],"range":["#000000","#ff0000","#0000ff","#ff00ff","#008000","#808000","#ff8000","#404040","#800080"]},
"legend":{"title":null,"orient":"none","legendX":209,"legendY":9,"symbolType":"M-1.58,0H1.58","symbolSize":90,"symbolStrokeWidth":1.5,"labelFontSize":10,"rowPadding":0.4,"padding":3,"strokeColor":"black","fillColor":"white","labelOffset":8,"symbolOffset":3}}}},
{"data":{"values":[{"w":2074,"v":202.4,"t":"2,069"},{"w":2003.2,"v":214,"t":"2,010"},{"w":2006,"v":113,"t":"2,004"}]},"mark":{"type":"text","fontSize":9,"color":"black","align":"center","baseline":"middle"},"encoding":{"text":{"field":"t"}}},
{"data":{"values":[{"w":1991.7,"v":62.4,"w2":2012,"v2":202.4},{"w":2108,"v":185.7,"w2":2092.5,"v2":99}]},"mark":{"type":"rule","color":"black"},"encoding":{"x2":{"field":"w2"},"y2":{"field":"v2"}}},
{"data":{"values":[{"w":2012,"v":202.4}]},"mark":{"type":"point","shape":"M0,0L0.6,1.8L-0.6,1.8Z","size":64,"filled":true,"color":"black","opacity":1,"angle":355},"encoding":{}},
{"data":{"values":[{"w":2092.5,"v":99}]},"mark":{"type":"point","shape":"M0,0L0.6,1.8L-0.6,1.8Z","size":64,"filled":true,"color":"black","opacity":1,"angle":174},"encoding":{}},
{"data":{"values":[{"w":1736.9,"v":43,"v2":52.4}]},"mark":{"type":"rule","color":"black"},"encoding":{"y2":{"field":"v2"}}},
{"data":{"values":[{"w":1736.9,"v":43},{"w":1736.9,"v":52.4}]},"mark":{"type":"tick","orient":"horizontal","size":5,"thickness":1,"color":"black"},"encoding":{}}
]},
{"data":{"values":[{"w":2000}]},"mark":{"type":"point","opacity":0},"encoding":{"x":{"field":"w","type":"quantitative","scale":{"domain":[1700,2200],"reverse":true,"nice":false,"zero":false},"axis":{"orient":"top","labels":false,"domain":false,"tickSize":-3,"title":null,"minExtent":0,"maxExtent":0,"values":[2200,2150,2100,2050,2000,1950,1900,1850,1800,1750,1700]}}}}
],
"resolve":{"scale":{"x":"independent","y":"independent"}}}
]
}
